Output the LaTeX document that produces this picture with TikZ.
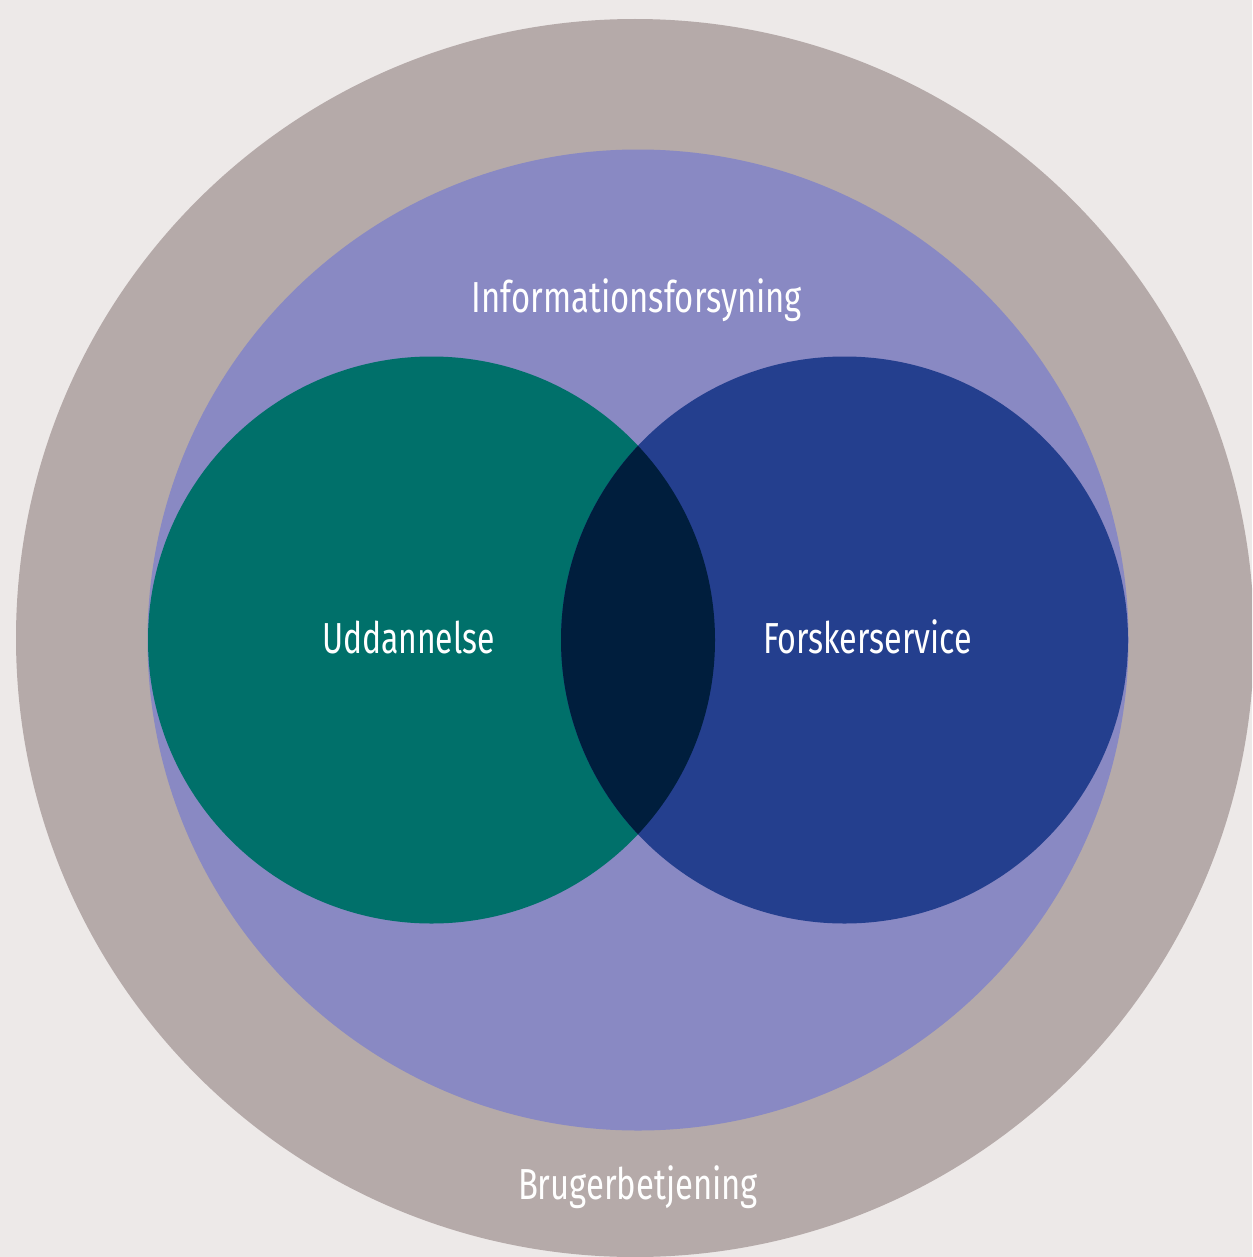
\documentclass[tikz,border=0pt]{standalone}
\usepackage{fontspec}
\setmainfont{Fira Sans}
\usepackage{graphicx}
\definecolor{bgc}{HTML}{EDE9E8}
\definecolor{outerc}{HTML}{B5AAA9}
\definecolor{lavc}{HTML}{8989C3}
\definecolor{tealc}{HTML}{00706A}
\definecolor{navyc}{HTML}{243F8E}
\definecolor{darkc}{HTML}{001E3D}
\newlength\pxu
\setlength\pxu{0.02cm}
\begin{document}
\begin{tikzpicture}[x=0.02cm,y=-0.02cm,
  lab/.style={text=white, inner sep=0pt, anchor=base, font=\fontsize{24.7}{28}\selectfont}]
\useasboundingbox (0,0) rectangle (1252,1257);
\clip (0,0) rectangle (1252,1257);
\fill[bgc] (0,0) rectangle (1252,1257);
\fill[outerc] (635,638) circle[radius=619];
\fill[lavc] (638,640) circle[radius=490.5];
\fill[tealc] (431.5,640) circle[radius=283.5];
\fill[navyc] (844.5,640) circle[radius=283.5];
\begin{scope}
  \clip (431.5,640) circle[radius=283.5];
  \fill[darkc] (844.5,640) circle[radius=283.5];
\end{scope}
\node[lab] (info) at (637,312) {\resizebox{330\pxu}{\height}{Informationsforsyning}};
\node[lab] (udd) at (408.5,653) {\resizebox{173\pxu}{\height}{Uddannelse}};
\node[lab] (forsk) at (867.5,653) {\resizebox{209\pxu}{\height}{Forskerservice}};
\node[lab] (brug) at (638,1199) {\resizebox{240\pxu}{\height}{Brugerbetjening}};
\end{tikzpicture}
\end{document}
